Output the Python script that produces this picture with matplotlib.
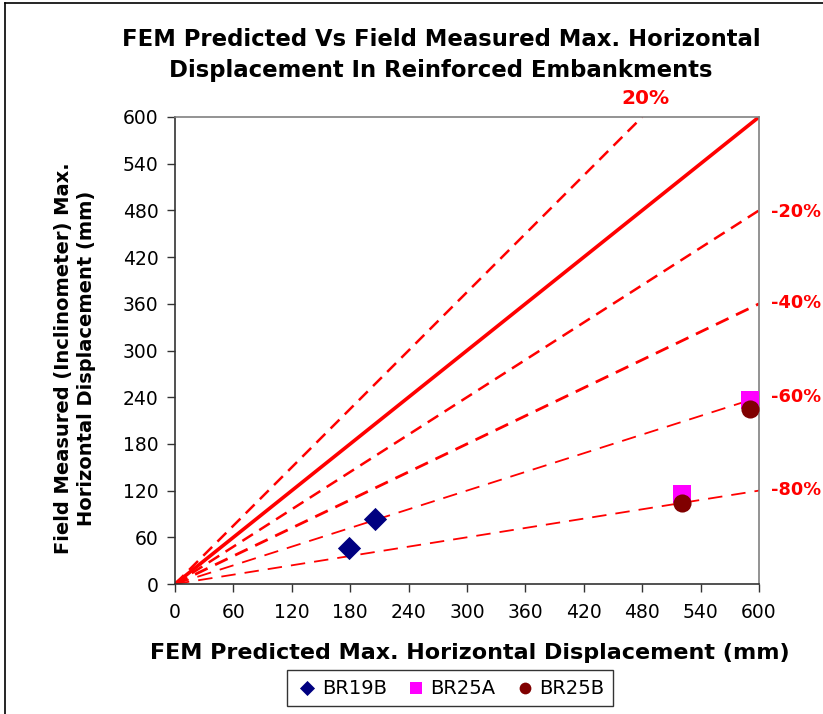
import matplotlib
matplotlib.use("Agg")
import matplotlib.pyplot as plt
from matplotlib.lines import Line2D
import numpy as np

plt.rcParams['font.family'] = ['DejaVu Sans']

# Data
br19b_x = [179, 205]
br19b_y = [46, 84]
br25a_x = [521, 591]
br25a_y = [116, 237]
br25b_x = [521, 591]
br25b_y = [104, 225]

guide_ratios = [1.25, 0.8, 0.6, 0.4, 0.2]
guide_labels = ["20%", "-20%", "-40%", "-60%", "-80%"]
ticks = list(range(0, 601, 60))

fig = plt.figure(figsize=(8.23, 7.14), dpi=100)
ax = fig.add_axes([175/823, 1-584/714, (759-175)/823, (584-117)/714])
ax.set_xlim(0, 600)
ax.set_ylim(0, 600)

red = '#FF0000'
# 1:1 line
ax.plot([0, 600], [0, 600], color=red, lw=2.6, zorder=2)
# guide lines
styles = {1.25: (1.8, (5, 3)), 0.8: (1.8, (5, 3)), 0.6: (2.0, (5, 3)),
          0.4: (1.3, (8, 5)), 0.2: (1.3, (8, 5))}
for r in guide_ratios:
    xe = min(600, 600 / r)
    xs = np.array([0, xe])
    lw, dash = styles[r]
    ax.plot(xs, r * xs, color=red, lw=lw, linestyle=(0, dash), zorder=2)

ax.scatter(br19b_x, br19b_y, marker='D', s=140, color='#000080', zorder=4, label='BR19B', linewidths=0)
ax.scatter(br25a_x, br25a_y, marker='s', s=170, color='#FF00FF', zorder=4, label='BR25A', linewidths=0)
ax.scatter(br25b_x, br25b_y, marker='o', s=170, color='#800000', zorder=5, label='BR25B', linewidths=0)

ax.set_xticks(ticks)
ax.set_yticks(ticks)
ax.tick_params(direction='out', length=6, width=1, labelsize=13.5, pad=6, color='#333333')
ax.tick_params(axis='x', pad=8)
for s in ['top', 'right']:
    ax.spines[s].set_color('#808080')
    ax.spines[s].set_linewidth(1.2)
for s in ['left', 'bottom']:
    ax.spines[s].set_color('#333333')
    ax.spines[s].set_linewidth(1.2)

# percent labels
fig.text(645/823, 1-98/714, "20%", color=red, fontsize=14.5, fontweight='bold', ha='center', va='center')
for lab, ypix in zip(guide_labels[1:], [212, 303, 397, 490]):
    fig.text(771/823, 1-ypix/714, lab, color=red, fontsize=12.8, fontweight='bold', ha='left', va='center')

fig.text(441/823, 1-40/714, "FEM Predicted Vs Field Measured Max. Horizontal", fontsize=16.4,
         fontweight='bold', ha='center', va='center')
fig.text(441/823, 1-70/714, "Displacement In Reinforced Embankments", fontsize=16.4,
         fontweight='bold', ha='center', va='center')

fig.text(470/823, 1-653/714, "FEM Predicted Max. Horizontal Displacement (mm)", fontsize=16,
         fontweight='bold', ha='center', va='center')
fig.text(75/823, 1-358/714, "Field Measured (Inclinometer) Max.\nHorizontal Displacement (mm)",
         fontsize=14, fontweight='bold', ha='center', va='center', rotation=90, linespacing=1.25)

leg = fig.legend(loc='center', bbox_to_anchor=(450/823, 1-688/714), ncol=3, fontsize=14,
                 frameon=True, fancybox=False, edgecolor='black', handletextpad=0.15,
                 columnspacing=0.9, borderpad=0.45, handlelength=1.2, markerscale=0.65)
leg.get_frame().set_linewidth(1.0)

# figure border (top and left)
fig.add_artist(Line2D([5/823, 5/823], [0, 1-3/714], color='black', lw=1.2))
fig.add_artist(Line2D([5/823, 1], [1-3/714, 1-3/714], color='black', lw=1.2))

fig.savefig("out.png", dpi=100)
